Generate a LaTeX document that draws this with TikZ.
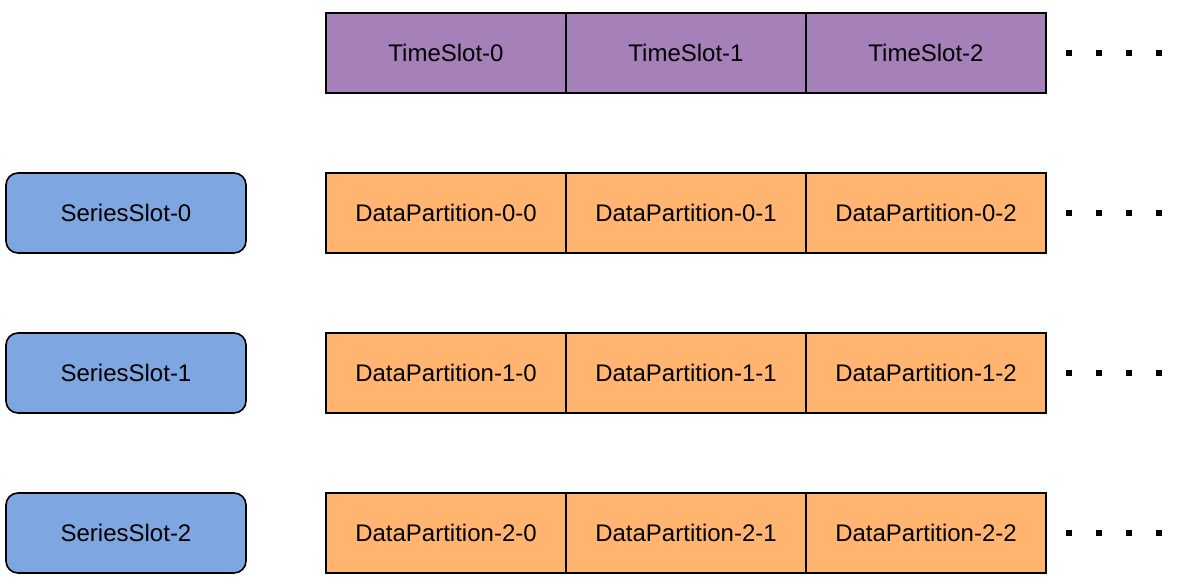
\documentclass[tikz,border=0pt]{standalone}
\usepackage{fontspec}
\setmainfont{Liberation Sans}
\definecolor{timecol}{HTML}{A680B8}
\definecolor{seriescol}{HTML}{7EA6E0}
\definecolor{partcol}{HTML}{FFB570}
\tikzset{
  cell/.style={draw, line width=1.6pt, minimum width=240pt, minimum height=80pt,
    inner sep=0pt, font=\fontsize{24}{28}\selectfont},
  timebox/.style={cell, fill=timecol},
  partbox/.style={cell, fill=partcol},
  seriesbox/.style={cell, fill=seriescol, rounded corners=12pt},
}

\begin{document}
\begin{tikzpicture}[x=1pt, y=-1pt]
      \useasboundingbox (0, 0) rectangle (1186, 588);

      % time slots
      \foreach \j in {0,1,2} {
        \node[timebox] (t\j) at (446+240*\j, 53) {TimeSlot-\j};
      }

      % series slots and their data partitions
      \foreach \i in {0,1,2} {
        \node[seriesbox] (s\i) at (126, 213+160*\i) {SeriesSlot-\i};
        \foreach \j in {0,1,2} {
          \node[partbox] (p\i\j) at (446+240*\j, 213+160*\i) {DataPartition-\i-\j};
        }
      }

      % continuation marks
      \foreach \y in {53, 213, 373, 533} {
        \foreach \x in {1069, 1099, 1129, 1159} {
          \fill (\x-3, \y-3) rectangle (\x+3, \y+3);
        }
      }
\end{tikzpicture}
\end{document}
